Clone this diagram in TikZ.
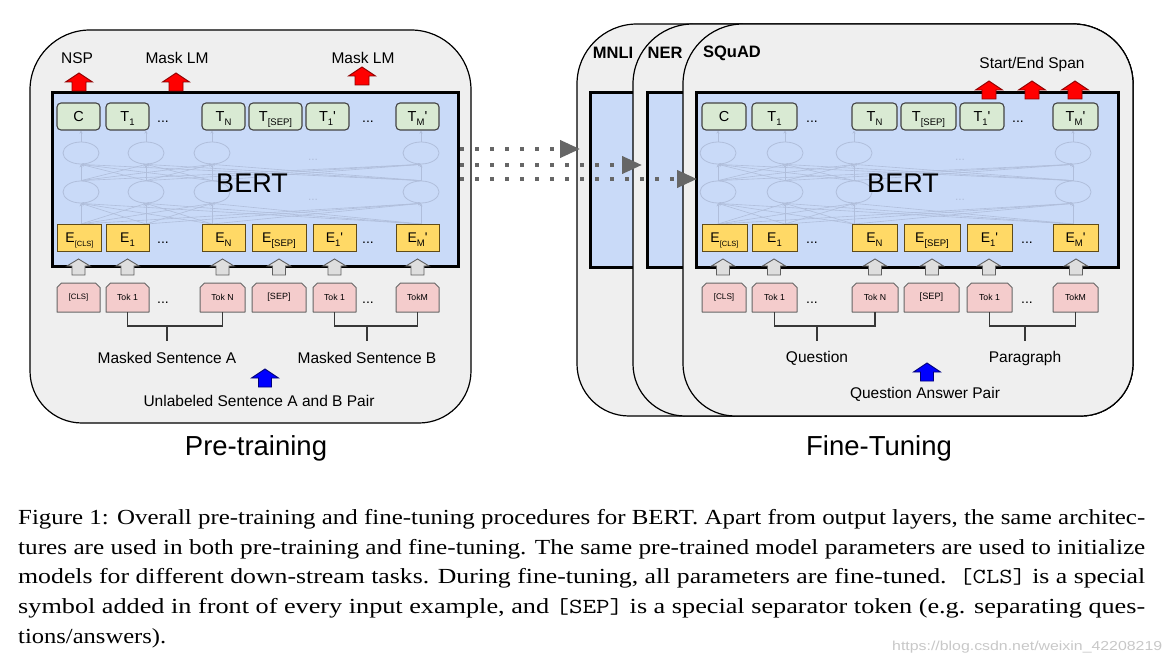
\documentclass[tikz,border=0pt]{standalone}
\usepackage{fontspec}
\usepackage{graphicx}
\setmainfont{Liberation Serif}
\newfontfamily\arial{Liberation Sans}
\usetikzlibrary{arrows.meta,shapes.geometric,calc}

\definecolor{panelbg}{RGB}{239,239,239}
\definecolor{bertblue}{RGB}{201,218,248}
\definecolor{tgreen}{RGB}{217,234,211}
\definecolor{tborder}{RGB}{67,67,67}
\definecolor{eyellow}{RGB}{255,217,102}
\definecolor{eborder}{RGB}{95,75,25}
\definecolor{tokpink}{RGB}{244,204,204}
\definecolor{tokborder}{RGB}{102,102,102}
\definecolor{garrfill}{RGB}{222,222,222}
\definecolor{garrline}{RGB}{95,95,95}
\definecolor{redfill}{RGB}{255,0,0}
\definecolor{redline}{RGB}{140,0,0}
\definecolor{bluefill}{RGB}{0,0,255}
\definecolor{blueline}{RGB}{0,0,120}
\definecolor{netc}{RGB}{176,190,219}
\definecolor{dotgray}{RGB}{102,102,102}
\definecolor{bracketc}{RGB}{55,55,55}
\definecolor{wmgray}{RGB}{200,200,200}

\newcommand\fs[1]{\fontsize{#1}{#1}\selectfont}
\newcommand\lsub[2][9.5]{\raisebox{-4pt}[0pt][0pt]{\fs{#1}#2}}

\tikzset{
  panel/.style={draw=black, line width=1.2pt, fill=panelbg},
  bertbox/.style={draw=black, line width=3pt, fill=bertblue, inner sep=0pt, anchor=north west},
  tbox/.style={draw=tborder, fill=tgreen, rounded corners=4pt, line width=1.1pt, minimum height=27pt, inner sep=0pt, font=\arial\fs{14.5}},
  ebox/.style={draw=eborder, fill=eyellow, line width=1pt, minimum height=27pt, inner sep=0pt, font=\arial\fs{14}},
  tokshape/.style={fill=tokpink, draw=tokborder, line width=1pt, line join=round},
  toktext/.style={inner sep=0pt, font=\arial\fs{8.7}},
  garrow/.style={fill=garrfill, draw=garrline, line width=0.9pt},
  rarrow/.style={fill=redfill, draw=redline, line width=0.9pt},
  barrow/.style={fill=bluefill, draw=blueline, line width=0.9pt},
  lbl/.style={inner sep=0pt, font=\arial\fs{15.5}},
  title/.style={inner sep=0pt, font=\arial\fs{27.5}},
  bertlbl/.style={inner sep=0pt, font=\arial\fs{27}},
  task/.style={inner sep=0pt, font=\arial\bfseries\fs{16.5}},
  dotsnode/.style={inner sep=0pt, font=\arial\fs{14}},
  netell/.style={ellipse, draw=netc, line width=0.8pt, minimum width=36pt, minimum height=22pt, inner sep=0pt},
  netline/.style={draw=netc, line width=0.6pt, -{Stealth[length=3pt,width=3pt]}},
  netdots/.style={inner sep=0pt, text=netc, font=\arial\fs{12}},
  bracket/.style={draw=bracketc, line width=1.1pt},
  dotarrow/.style={draw=dotgray, line width=4pt, dash pattern=on 4pt off 11pt, -{Triangle[length=20pt,width=17pt]}},
  capline/.style={anchor=base west, inner sep=0pt, font=\fs{21.5}},
}

\newcommand\blockup[7]{%
  \path[#1] (#2,#3) -- ({#2+#6},{#3+#5}) -- ({#2+#7},{#3+#5}) -- ({#2+#7},{#3+#4})
    -- ({#2-#7},{#3+#4}) -- ({#2-#7},{#3+#5}) -- ({#2-#6},{#3+#5}) -- cycle;}
\newcommand\garr[1]{\blockup{garrow}{#1}{259}{16}{7}{11.5}{6.5}}
\newcommand\rarr[2]{\blockup{rarrow}{#1}{#2}{18}{9}{13.5}{7}}
\newcommand\barr[2]{\blockup{barrow}{#1}{#2}{18}{9}{13.5}{6.5}}

\newcommand\tok[4]{%
  \path[tokshape] ({#2-#3/2},312) -- ({#2-#3/2},287.5) -- ({#2-#3/2+4.5},283) -- ({#2+#3/2-4.5},283)
    -- ({#2+#3/2},287.5) -- ({#2+#3/2},312) -- cycle;
  \node[toktext, minimum width=#3pt, minimum height=29pt] (#1) at (#2,297.5) {#4};}

\newcommand\panelpath[4]{%
  \path[panel] (#1,{(#2+#4)/2}) [rounded corners=60pt] -- (#1,#2) -- (#3,#2) -- (#3,{(#2+#4)/2})
    [rounded corners=52pt] -- (#3,#4) -- (#1,#4) -- cycle;}

\newcommand\network[3]{%
  \foreach \a [count=\i] in {#1}{
    \node[netell] (#3u\i) at (\a,153) {};
    \node[netell] (#3l\i) at (\a,192) {};
  }
  \foreach \a [count=\i] in {#1}{
    \draw[netline] (#3u\i.north) -- (\a,130.5);
    \foreach \b [count=\j] in {#1}{
      \draw[netline] (#3l\i.north) -- (#3u\j.south);
      \draw[netline] (\a,224) -- (#3l\j.south);
    }
  }
  \node[netdots] (#3d1) at (#2,160) {...};
  \node[netdots] (#3d2) at (#2,200) {...};
}

\begin{document}
\begin{tikzpicture}[x=1pt,y=-1pt]
\useasboundingbox (0,0) rectangle (1173,666);
\fill[white] (0,0) rectangle (1173,666);

% ================= LEFT: PRE-TRAINING =================
\panelpath{30}{30}{471}{423}
\node[lbl] (nsp) at (77,58) {NSP};
\node[lbl] (mlm1) at (177,58) {Mask LM};
\node[lbl] (mlm2) at (363,58) {Mask LM};

\node[bertbox, minimum width=406pt, minimum height=174pt] (LB) at (51,91) {};
\network{81,146,212,421}{313}{LN}
\node[bertlbl] (LBl) at (252,183) {BERT};

% T row
\node[tbox, minimum width=43pt] (LTc) at (78.5,116.5) {C};
\node[tbox, minimum width=43pt] (LT1) at (127.5,116.5) {T\lsub{1}};
\node[dotsnode] (LTd1) at (163,122) {...};
\node[tbox, minimum width=43pt] (LTN) at (223.5,116.5) {T\lsub{N}};
\node[tbox, minimum width=53pt] (LTs) at (275.5,116.5) {T\lsub{[SEP]}};
\node[tbox, minimum width=43pt] (LT1b) at (327.5,116.5) {T\lsub{1}'};
\node[dotsnode] (LTd2) at (368,122) {...};
\node[tbox, minimum width=43pt] (LTM) at (417.5,116.5) {T\lsub{M}'};

% E row
\node[ebox, minimum width=44pt] (LEc) at (79.5,237.5) {E\lsub[7.5]{[CLS]}};
\node[ebox, minimum width=43pt] (LE1) at (127.5,237.5) {E\lsub{1}};
\node[dotsnode] (LEd1) at (163,243) {...};
\node[ebox, minimum width=43pt] (LEN) at (223.5,237.5) {E\lsub{N}};
\node[ebox, minimum width=54pt] (LEs) at (279,237.5) {E\lsub{[SEP]}};
\node[ebox, minimum width=43pt] (LE1b) at (334.5,237.5) {E\lsub{1}'};
\node[dotsnode] (LEd2) at (368,243) {...};
\node[ebox, minimum width=43pt] (LEM) at (417.5,237.5) {E\lsub{M}'};

% output arrows
\rarr{79}{73}
\rarr{176}{73}
\rarr{362}{67}

% tokens
\tok{Lk0}{78.5}{43}{\fs{7.8}[CLS]}
\tok{Lk1}{127.5}{43}{Tok 1}
\node[dotsnode] (Lkd1) at (163,303) {...};
\tok{LkN}{222.5}{45}{Tok N}
\tok{Lks}{279}{54}{\fs{9}[SEP]}
\tok{Lk1b}{334.5}{43}{Tok 1}
\node[dotsnode] (Lkd2) at (368,303) {...};
\tok{LkM}{417.5}{43}{TokM}

\garr{78.5}\garr{127.5}\garr{222.5}\garr{279}\garr{334.5}\garr{417.5}

% brackets
\coordinate (LbA) at (167,326);
\coordinate (LbA2) at (167,341);
\draw[bracket] (Lk1.south) -- (Lk1.south |- LbA) -- (LkN.south |- LbA) -- (LkN.south);
\draw[bracket] (LbA) -- (LbA2);
\coordinate (LbB) at (367,326);
\coordinate (LbB2) at (367,341);
\draw[bracket] (Lk1b.south) -- (Lk1b.south |- LbB) -- (LkM.south |- LbB) -- (LkM.south);
\draw[bracket] (LbB) -- (LbB2);
\node[lbl] (LlA) at (167,358) {Masked Sentence A};
\node[lbl] (LlB) at (367,358) {Masked Sentence B};
\barr{265}{369}
\node[lbl] (Lpair) at (259,401) {Unlabeled Sentence A and B Pair};
\node[title] (Ltitle) at (256,448) {Pre-training};

% ================= RIGHT: FINE-TUNING =================
\panelpath{577}{24}{1133}{416}
\node[task] (mnli) at (613,53) {MNLI};
\node[bertbox, minimum width=528pt, minimum height=175pt] (MB) at (589,91) {};
\panelpath{633}{24}{1133}{416}
\node[task] (ner) at (665,53) {NER};
\node[bertbox, minimum width=471pt, minimum height=175pt] (NB) at (646,91) {};
\panelpath{683}{24}{1133}{416}
\node[task] (squad) at (732,53) {SQuAD};
\node[lbl] (span) at (1032,64) {Start/End Span};

\node[bertbox, minimum width=422pt, minimum height=175pt] (RB) at (695,91) {};
\network{718,785,854,1073}{960}{RN}
\node[bertlbl] (RBl) at (903,183) {BERT};

% T row
\node[tbox, minimum width=44pt] (RTc) at (724,116.5) {C};
\node[tbox, minimum width=45pt] (RT1) at (774.5,116.5) {T\lsub{1}};
\node[dotsnode] (RTd1) at (812,122) {...};
\node[tbox, minimum width=45pt] (RTN) at (874.5,116.5) {T\lsub{N}};
\node[tbox, minimum width=55pt] (RTs) at (928.5,116.5) {T\lsub{[SEP]}};
\node[tbox, minimum width=44pt] (RT1b) at (982,116.5) {T\lsub{1}'};
\node[dotsnode] (RTd2) at (1018,122) {...};
\node[tbox, minimum width=45pt] (RTM) at (1075.5,116.5) {T\lsub{M}'};

% E row
\node[ebox, minimum width=45pt] (REc) at (724.5,237.5) {E\lsub[7.5]{[CLS]}};
\node[ebox, minimum width=45pt] (RE1) at (774.5,237.5) {E\lsub{1}};
\node[dotsnode] (REd1) at (812,243) {...};
\node[ebox, minimum width=45pt] (REN) at (874.5,237.5) {E\lsub{N}};
\node[ebox, minimum width=56pt] (REs) at (932,237.5) {E\lsub{[SEP]}};
\node[ebox, minimum width=45pt] (RE1b) at (989.5,237.5) {E\lsub{1}'};
\node[dotsnode] (REd2) at (1027,243) {...};
\node[ebox, minimum width=45pt] (REM) at (1075.5,237.5) {E\lsub{M}'};

\rarr{989}{81}
\rarr{1032}{81}
\rarr{1075}{81}

% tokens
\tok{Rk0}{724}{44}{\fs{8.2}[CLS]}
\tok{Rk1}{774.5}{45}{Tok 1}
\node[dotsnode] (Rkd1) at (812,303) {...};
\tok{RkN}{875}{46}{Tok N}
\tok{Rks}{931.5}{55}{\fs{9.2}[SEP]}
\tok{Rk1b}{989.5}{45}{Tok 1}
\node[dotsnode] (Rkd2) at (1027,303) {...};
\tok{RkM}{1075.5}{45}{TokM}

\garr{723}\garr{774}\garr{875}\garr{932}\garr{989}\garr{1076}

\coordinate (RbQ) at (817,326);
\coordinate (RbQ2) at (817,341);
\draw[bracket] (Rk1.south) -- (Rk1.south |- RbQ) -- (RkN.south |- RbQ) -- (RkN.south);
\draw[bracket] (RbQ) -- (RbQ2);
\coordinate (RbP) at (1025,326);
\coordinate (RbP2) at (1025,341);
\draw[bracket] (Rk1b.south) -- (Rk1b.south |- RbP) -- (RkM.south |- RbP) -- (RkM.south);
\draw[bracket] (RbP) -- (RbP2);
\node[lbl] (RlQ) at (817,358) {Question};
\node[lbl] (RlP) at (1025,358) {Paragraph};
\barr{927}{363}
\node[lbl] (Rpair) at (925,394) {Question Answer Pair};
\node[title] (Rtitle) at (879,448) {Fine-Tuning};

% ================= DOTTED TRANSFER ARROWS =================
\coordinate (d1s) at (460,149);
\coordinate (d1e) at (580,149);
\coordinate (d2s) at (460,165);
\coordinate (d2e) at (642,165);
\coordinate (d3s) at (460,179);
\coordinate (d3e) at (697,179);
\draw[dotarrow] (d1s) -- (d1e);
\draw[dotarrow] (d2s) -- (d2e);
\draw[dotarrow] (d3s) -- (d3e);

% ================= CAPTION =================
\node[capline] (cap1) at (18,524) {\resizebox{1127pt}{\height}{Figure 1: Overall pre-training and fine-tuning procedures for BERT. Apart from output layers, the same architec-}};
\node[capline] (cap2) at (18,554) {\resizebox{1127pt}{\height}{tures are used in both pre-training and fine-tuning. The same pre-trained model parameters are used to initialize}};
\node[capline] (cap3) at (18,583.5) {\resizebox{1127pt}{\height}{models for different down-stream tasks. During fine-tuning, all parameters are fine-tuned.\ \ \texttt{[CLS]} is a special}};
\node[capline] (cap4) at (18,613) {\resizebox{1127pt}{\height}{symbol added in front of every input example, and \texttt{[SEP]} is a special separator token (e.g. separating ques-}};
\node[capline] (cap5) at (18,643) {\resizebox{148pt}{\height}{tions/answers).}};
\node[anchor=base west, inner sep=0pt, text=wmgray, font=\arial\fs{13}] (wm) at (892,650) {\resizebox{270pt}{\height}{https://blog.csdn.net/weixin\_42208219}};
\end{tikzpicture}
\end{document}
